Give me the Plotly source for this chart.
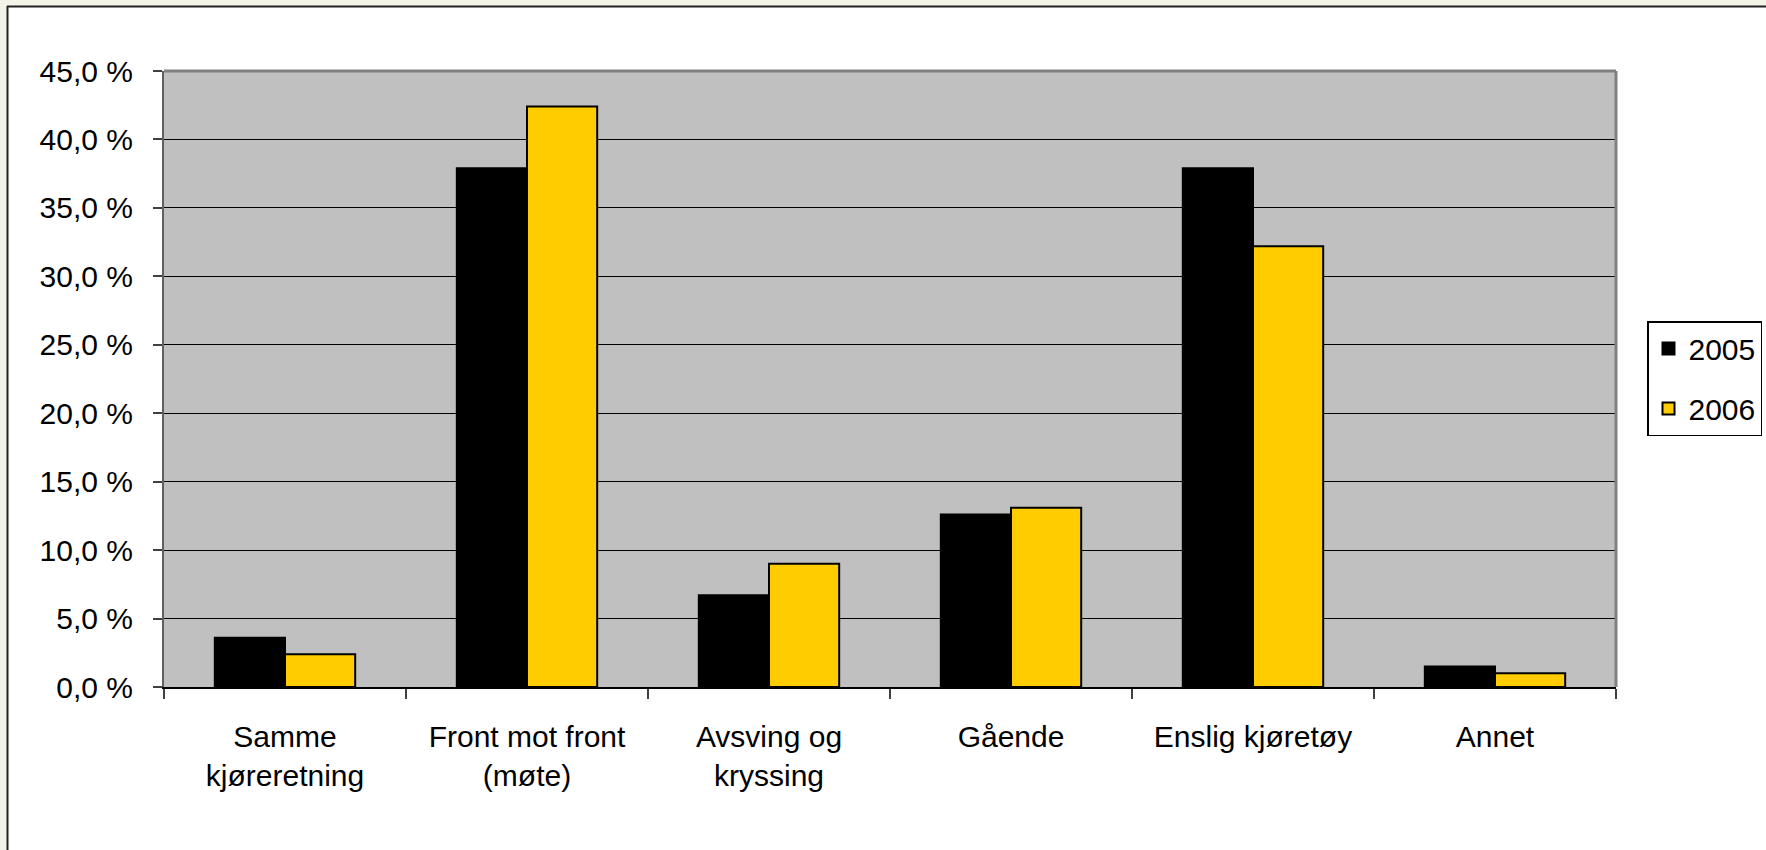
import plotly.graph_objects as go

# Ulykkestyper, andel av drepte/hardt skadde
categories = [
    "Samme<br>kjøreretning",
    "Front mot front<br>(møte)",
    "Avsving og<br>kryssing",
    "Gående",
    "Enslig kjøretøy",
    "Annet",
]
values_2005 = [3.6, 37.9, 6.7, 12.6, 37.9, 1.5]
values_2006 = [2.4, 42.4, 9.0, 13.1, 32.2, 1.0]

y_ticks = [0, 5, 10, 15, 20, 25, 30, 35, 40, 45]
y_tick_labels = ["0,0 %", "5,0 %", "10,0 %", "15,0 %", "20,0 %",
                 "25,0 %", "30,0 %", "35,0 %", "40,0 %", "45,0 %"]

W, H = 1766, 850
L, R, T, B = 164, 150, 71, 163
plot_w = W - L - R
plot_h = H - T - B


def px_x(px):
    return (px - L) / plot_w


def px_y(py):
    return (H - B - py) / plot_h


FONT = "Liberation Sans, Arial, sans-serif"
FS = 30

fig = go.Figure()
fig.add_trace(go.Bar(
    name="2005", x=categories, y=values_2005,
    marker=dict(color="#000000", line=dict(color="#000000", width=2)),
    legendgroup="a",
))
fig.add_trace(go.Bar(
    name="2006", x=categories, y=values_2006,
    marker=dict(color="#FFCC00", line=dict(color="#000000", width=2)),
    legendgroup="b",
))

shapes = [
    # outer slide strips and frame
    dict(type="rect", xref="paper", yref="paper",
         x0=px_x(0), x1=px_x(W + 5), y0=px_y(0), y1=px_y(6),
         fillcolor="#F4F3E8", line=dict(width=0), layer="below"),
    dict(type="rect", xref="paper", yref="paper",
         x0=px_x(0), x1=px_x(7), y0=px_y(H + 5), y1=px_y(0),
         fillcolor="#F4F3E8", line=dict(width=0), layer="below"),
    dict(type="line", xref="paper", yref="paper",
         x0=px_x(7), x1=px_x(W + 5), y0=px_y(6.5), y1=px_y(6.5),
         line=dict(color="#222222", width=2)),
    dict(type="line", xref="paper", yref="paper",
         x0=px_x(7.5), x1=px_x(7.5), y0=px_y(6), y1=px_y(H + 5),
         line=dict(color="#222222", width=2)),
    # plot area border (top and right)
    dict(type="line", xref="paper", yref="paper",
         x0=0, x1=1, y0=1, y1=1,
         line=dict(color="#808080", width=3)),
    dict(type="line", xref="paper", yref="paper",
         x0=1, x1=1, y0=0, y1=1,
         line=dict(color="#808080", width=3)),
]

fig.update_layout(
    width=W, height=H,
    margin=dict(l=L, r=R, t=T, b=B, pad=0, autoexpand=False),
    paper_bgcolor="#FFFFFF",
    plot_bgcolor="#C0C0C0",
    font=dict(family=FONT, size=FS, color="#000000"),
    barmode="group",
    bargap=0.42,
    bargroupgap=0,
    shapes=shapes,
    showlegend=True,
    legend=dict(
        x=px_x(1647), y=px_y(321), xanchor="left", yanchor="top",
        bgcolor="#FFFFFF", bordercolor="#000000", borderwidth=1.5,
        font=dict(family=FONT, size=FS, color="#000000"),
        tracegroupgap=18,
        traceorder="grouped",
        itemwidth=30,
    ),
)

fig.update_xaxes(
    type="category",
    showline=True, linecolor="#000000", linewidth=2,
    ticks="outside", ticklen=10, tickwidth=1.5, tickcolor="#404040",
    tickson="boundaries",
    showgrid=False,
    ticklabelstandoff=22,
    tickfont=dict(family=FONT, size=FS, color="#000000"),
)
fig.update_yaxes(
    range=[0, 45],
    tickvals=y_ticks, ticktext=y_tick_labels,
    showline=True, linecolor="#606060", linewidth=2,
    ticks="outside", ticklen=9, tickwidth=1.5, tickcolor="#404040",
    showgrid=True, gridcolor="#000000", gridwidth=1,
    zeroline=False,
    ticklabelstandoff=14,
    tickfont=dict(family=FONT, size=FS, color="#000000"),
)

fig.write_html("out.html")
